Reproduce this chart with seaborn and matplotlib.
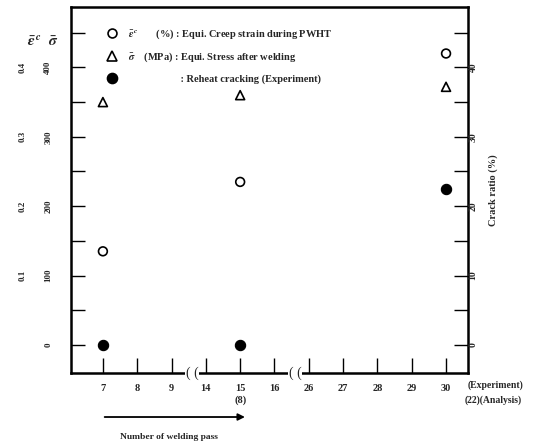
import matplotlib
matplotlib.use("Agg")
import matplotlib.pyplot as plt
from matplotlib.lines import Line2D
import seaborn as sns
import pandas as pd
import numpy as np

# ---------------- data ----------------
pass_labels = ["7", "8", "9", "14", "15", "16", "26", "27", "28", "29", "30"]
pass_numbers = [7, 8, 9, 14, 15, 16, 26, 27, 28, 29, 30]
analysed_passes = [7, 15, 30]
creep_strain = [0.135, 0.235, 0.42]        # equi. creep strain during PWHT (%)
stress = [350, 360, 372]                    # equi. stress after welding (MPa)
crack_ratio = [0.0, 0.0, 22.5]              # reheat cracking, experiment (%)

sigma_ticks = [0, 50, 100, 150, 200, 250, 300, 350, 400, 450]
sigma_labels = ["0", "", "100", "", "200", "", "300", "", "400", ""]
eps_ticks = [0.1, 0.2, 0.3, 0.4]
eps_labels = ["0.1", "0.2", "0.3", "0.4"]
crack_ticks = [0, 5, 10, 15, 20, 25, 30, 35, 40, 45]
crack_labels = ["0", "", "10", "", "20", "", "30", "", "40", ""]

# ---------------- style ----------------
sns.set_style("white")
plt.rcParams["font.family"] = ["Liberation Serif", "DejaVu Serif"]
plt.rcParams["font.weight"] = "bold"
plt.rcParams["mathtext.fontset"] = "stix"

slot = {p: i for i, p in enumerate(pass_numbers)}
df = pd.DataFrame({
    "pass": analysed_passes,
    "slot": [slot[p] for p in analysed_passes],
    "eps": creep_strain,
    "sigma": stress,
    "crack": crack_ratio,
})

fig = plt.figure(figsize=(5.37, 4.46), dpi=100)
ax = fig.add_axes([0.1322, 0.1637, 0.7393, 0.8206])
ax_r = ax.twinx()
ax_e = ax.twinx()

ylo, yhi = -40.3, 487.0
ax.set_ylim(ylo, yhi)
ax_r.set_ylim(ylo / 10, yhi / 10)
ax_e.set_ylim(ylo / 1000, yhi / 1000)
ax.set_xlim(-0.93, 10.64)

# ---------------- marks ----------------
sns.scatterplot(data=df, x="slot", y="eps", ax=ax_e, marker="o", s=40,
                fc="none", ec="black", linewidth=1.2, legend=False, zorder=5)
sns.scatterplot(data=df, x="slot", y="sigma", ax=ax, marker="^", s=42,
                fc="none", ec="black", linewidth=1.2, legend=False, zorder=5)
sns.scatterplot(data=df, x="slot", y="crack", ax=ax_r, marker="o", s=55,
                fc="black", ec="black", linewidth=0.8, legend=False, zorder=5)
ax_e.set_axis_off()
ax.set_xlim(-0.93, 10.64)

# ---------------- axes / ticks ----------------
for sp in ax.spines.values():
    sp.set_linewidth(1.8)
    sp.set_color("black")
for sp in ax_r.spines.values():
    sp.set_visible(False)

ax.set_xticks(range(len(pass_labels)))
xt = list(pass_labels)
xt[pass_labels.index("15")] = "15\n(8)"
ax.set_xticklabels(xt, fontsize=7.5, fontweight="bold", linespacing=1.3, va="top")
ax.tick_params(axis="x", which="major", bottom=True, direction="in", length=11,
               width=1.0, pad=8, color="black")
ax.set_xlabel("")

ax.set_yticks(sigma_ticks)
ax.set_yticklabels(sigma_labels, rotation=90, va="center", fontsize=6.5, fontweight="bold")
ax.tick_params(axis="y", left=True, direction="in", length=10, width=1.0, pad=13.5, color="black")
ax.set_ylabel("")
ax.text(-0.045, 0.905, r"$\bar{\sigma}$", transform=ax.transAxes, ha="center",
        va="center", fontsize=11)
ax.text(-0.092, 0.905, r"$\bar{\varepsilon}^{\,c}$", transform=ax.transAxes,
        ha="center", va="center", fontsize=11)

sec = ax.secondary_yaxis("left", functions=(lambda v: v / 1000, lambda v: v * 1000))
sec.set_yticks(eps_ticks)
sec.set_yticklabels(eps_labels, rotation=90, va="center", fontsize=6.5, fontweight="bold")
sec.tick_params(axis="y", length=0, pad=32)
sec.spines["left"].set_visible(False)

ax_r.set_yticks(crack_ticks)
ax_r.set_yticklabels(crack_labels, rotation=90, va="center", fontsize=7, fontweight="bold")
ax_r.tick_params(axis="y", right=True, direction="in", length=10, width=1.0, pad=0.5, color="black")
ax_r.set_ylabel("Crack ratio (%)", fontsize=7.5, fontweight="bold", labelpad=8)

# axis breaks (between non-consecutive pass numbers)
for i in range(len(pass_numbers) - 1):
    if pass_numbers[i + 1] - pass_numbers[i] > 1:
        ax.text(i + 0.6, 0, "( (", transform=ax.get_xaxis_transform(),
                ha="center", va="center", fontsize=10, fontweight="normal",
                bbox=dict(fc="white", ec="none", pad=0.5), zorder=10, clip_on=False)

# extra x annotations
ax.text(1.0, -0.033, "(Experiment)", transform=ax.transAxes, ha="left",
        va="center", fontsize=7, fontweight="bold")
ax.text(1.136, -0.075, "(22)(Analysis)", transform=ax.transAxes, ha="right",
        va="center", fontsize=7, fontweight="bold")

ax.annotate("", xy=(slot[15] + 0.22, 0.065), xytext=(slot[7] - 0.03, 0.065),
            xycoords=("data", "figure fraction"), textcoords=("data", "figure fraction"),
            arrowprops=dict(arrowstyle="-|>", color="black", lw=1.3, mutation_scale=10))
fig.text(0.224, 0.02, "Number of welding pass", ha="left", va="center",
         fontsize=6.8, fontweight="bold")

# ---------------- legend ----------------
handles = [
    Line2D([], [], ls="none", marker="o", ms=6.4, mfc="none", mec="black", mew=1.2),
    Line2D([], [], ls="none", marker="^", ms=6.6, mfc="none", mec="black", mew=1.2),
    Line2D([], [], ls="none", marker="o", ms=7.4, mfc="black", mec="black"),
]
labels = [
    r"$\bar{\varepsilon}^{\,c}$" + "       (%) : Equi. Creep strain during PWHT",
    r"$\bar{\sigma}$" + "    (MPa) : Equi. Stress after welding",
    "                    : Reheat cracking (Experiment)",
]
ax.legend(handles, labels, loc="upper left", bbox_to_anchor=(0.09, 0.944),
          frameon=False, handlelength=1.0, handletextpad=1.0,
          labelspacing=0.95, borderpad=0, borderaxespad=0,
          prop={"weight": "bold", "size": 7.5})

fig.savefig("out.png", dpi=100)
